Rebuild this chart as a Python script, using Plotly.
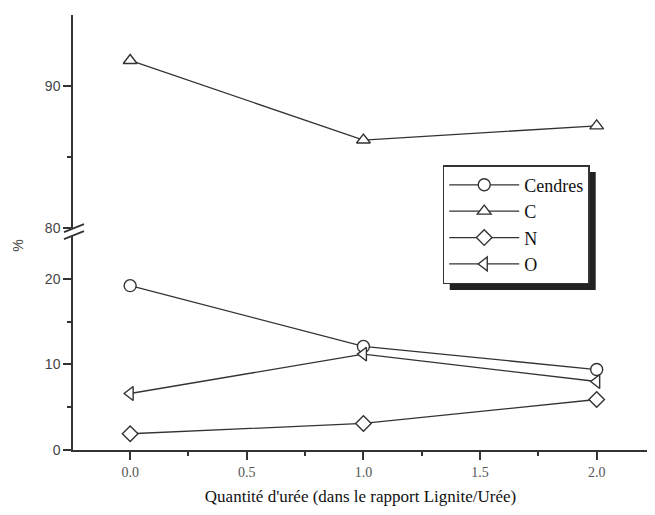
import plotly.graph_objects as go

ratio = [0.0, 1.0, 2.0]
cendres = [19.2, 12.1, 9.4]
carbone = [91.8, 86.2, 87.2]
azote = [1.9, 3.1, 5.9]
oxygene = [6.6, 11.2, 8.0]

x_ticks = [0.0, 0.5, 1.0, 1.5, 2.0]
x_ticklabels = ["0.0", "0.5", "1.0", "1.5", "2.0"]

ink = "#333333"
mk = dict(size=12, color="white", line=dict(color=ink, width=1.4))
ln = dict(color=ink, width=1.3)

fig = go.Figure()
fig.add_trace(go.Scatter(x=ratio, y=cendres, name="Cendres", mode="lines+markers",
                         line=ln, marker=dict(symbol="circle", **mk), yaxis="y"))
fig.add_trace(go.Scatter(x=ratio, y=carbone, name="C", mode="lines+markers",
                         line=ln, marker=dict(symbol="triangle-up", **mk), yaxis="y2"))
fig.add_trace(go.Scatter(x=ratio, y=azote, name="N", mode="lines+markers",
                         line=ln, marker=dict(symbol="diamond", **mk), yaxis="y"))
fig.add_trace(go.Scatter(x=ratio, y=oxygene, name="O", mode="lines+markers",
                         line=ln, marker=dict(symbol="triangle-left", **mk), yaxis="y"))

axis_common = dict(showline=True, linecolor=ink, linewidth=1.5, ticks="outside",
                   tickcolor=ink, tickwidth=1.5, ticklen=8, showgrid=False, zeroline=False,
                   tickfont=dict(family="Liberation Sans", size=14, color="#444444"))

fig.update_layout(
    width=655, height=515,
    margin=dict(l=65, r=15, t=7, b=73),
    paper_bgcolor="white", plot_bgcolor="white",
    showlegend=True,
    xaxis=dict(range=[-0.245, 2.22], tickvals=x_ticks, ticktext=x_ticklabels,
               minor=dict(dtick=0.25, tick0=0, ticks="outside", ticklen=4, tickcolor=ink, tickwidth=1.5),
               title=dict(text="Quantité d'urée (dans le rapport Lignite/Urée)",
                          font=dict(family="Liberation Serif", size=17, color="#111111"), standoff=12),
               **{**axis_common, "tickfont": dict(family="Liberation Serif", size=14, color="#555555")}),
    yaxis=dict(domain=[0, 0.492], range=[0, 25], tickvals=[0, 10, 20],
               minor=dict(tickvals=[5, 15], ticks="outside", ticklen=4, tickcolor=ink, tickwidth=1.5),
               **axis_common),
    yaxis2=dict(domain=[0.510, 1], range=[80, 95], tickvals=[80, 90],
                minor=dict(tickvals=[85], ticks="outside", ticklen=4, tickcolor=ink, tickwidth=1.5),
                anchor="x", **axis_common),
    legend=dict(x=0.643, y=0.655, xanchor="left", yanchor="top",
                bgcolor="white", bordercolor=ink, borderwidth=1.5,
                font=dict(family="Liberation Serif", size=18, color="#111111"),
                itemwidth=70, tracegroupgap=0),
    annotations=[dict(text="%", xref="paper", yref="paper", x=-0.097, y=0.47,
                      xanchor="center", yanchor="middle",
                      showarrow=False, textangle=-90,
                      font=dict(family="Liberation Sans", size=14, color="#444444"))],
)

# legend shadow (drawn under the legend box, offset down-right)
fig.add_shape(type="rect", xref="paper", yref="paper",
              xsizemode="pixel", ysizemode="pixel", xanchor=0.643, yanchor=0.655,
              x0=7, x1=153, y0=-125, y1=-7,
              fillcolor="#222222", line=dict(width=0), layer="below")

# axis break marks
for dy in (0, 7):
    fig.add_shape(type="line", xref="paper", yref="paper",
                  xsizemode="pixel", ysizemode="pixel", xanchor=0, yanchor=0.501,
                  x0=-9, x1=11, y0=-7 + dy, y1=1 + dy,
                  line=dict(color=ink, width=1.8))

fig.write_html("out.html")
